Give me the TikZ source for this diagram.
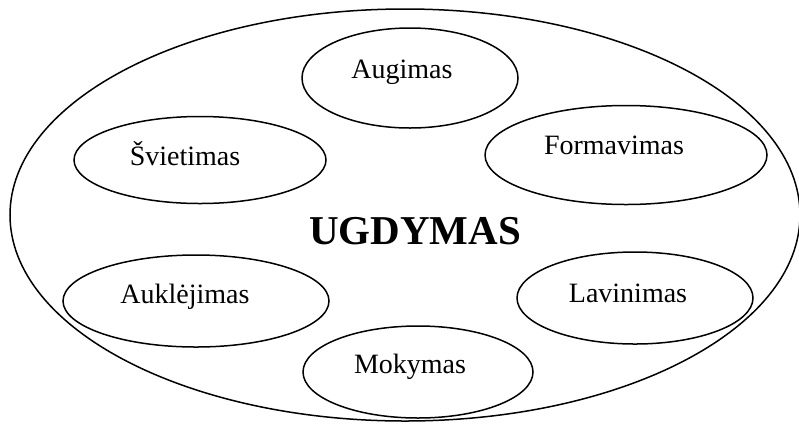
\documentclass[tikz,border=0pt]{standalone}
\usepackage{fontspec}
\setmainfont{Liberation Serif}
\usetikzlibrary{shapes.geometric}
\begin{document}
\begin{tikzpicture}[x=1pt,y=-1pt,
  oval/.style={draw=black,line width=1.5pt,ellipse,inner sep=0pt},
  lbl/.style={anchor=base,inner sep=0pt,font=\fontsize{28}{30}\selectfont},
  title/.style={anchor=base,inner sep=0pt,font=\fontsize{41}{44}\selectfont\bfseries}]
\useasboundingbox (0,0) rectangle (799,424);
\node[oval,minimum width=790pt,minimum height=412pt] (big) at (405,215) {};
\node[oval,minimum width=216pt,minimum height=100pt] (aug) at (410,78) {};
\node[oval,minimum width=252pt,minimum height=87pt] (svi) at (200,160) {};
\node[oval,minimum width=282pt,minimum height=99pt] (for) at (626,155) {};
\node[oval,minimum width=266pt,minimum height=92pt] (auk) at (196,301) {};
\node[oval,minimum width=236pt,minimum height=92pt] (lav) at (635,298) {};
\node[oval,minimum width=230pt,minimum height=92pt] (mok) at (418,372) {};
\node[lbl] (taug) at (402,78) {Augimas};
\node[lbl] (tsvi) at (185,165) {Švietimas};
\node[lbl] (tfor) at (614,154) {Formavimas};
\node[lbl] (tauk) at (185,303) {Auklėjimas};
\node[lbl] (tlav) at (628,302) {Lavinimas};
\node[lbl] (tmok) at (410,373) {Mokymas};
\node[title] (tugd) at (415,244) {UGDYMAS};
\end{tikzpicture}
\end{document}
